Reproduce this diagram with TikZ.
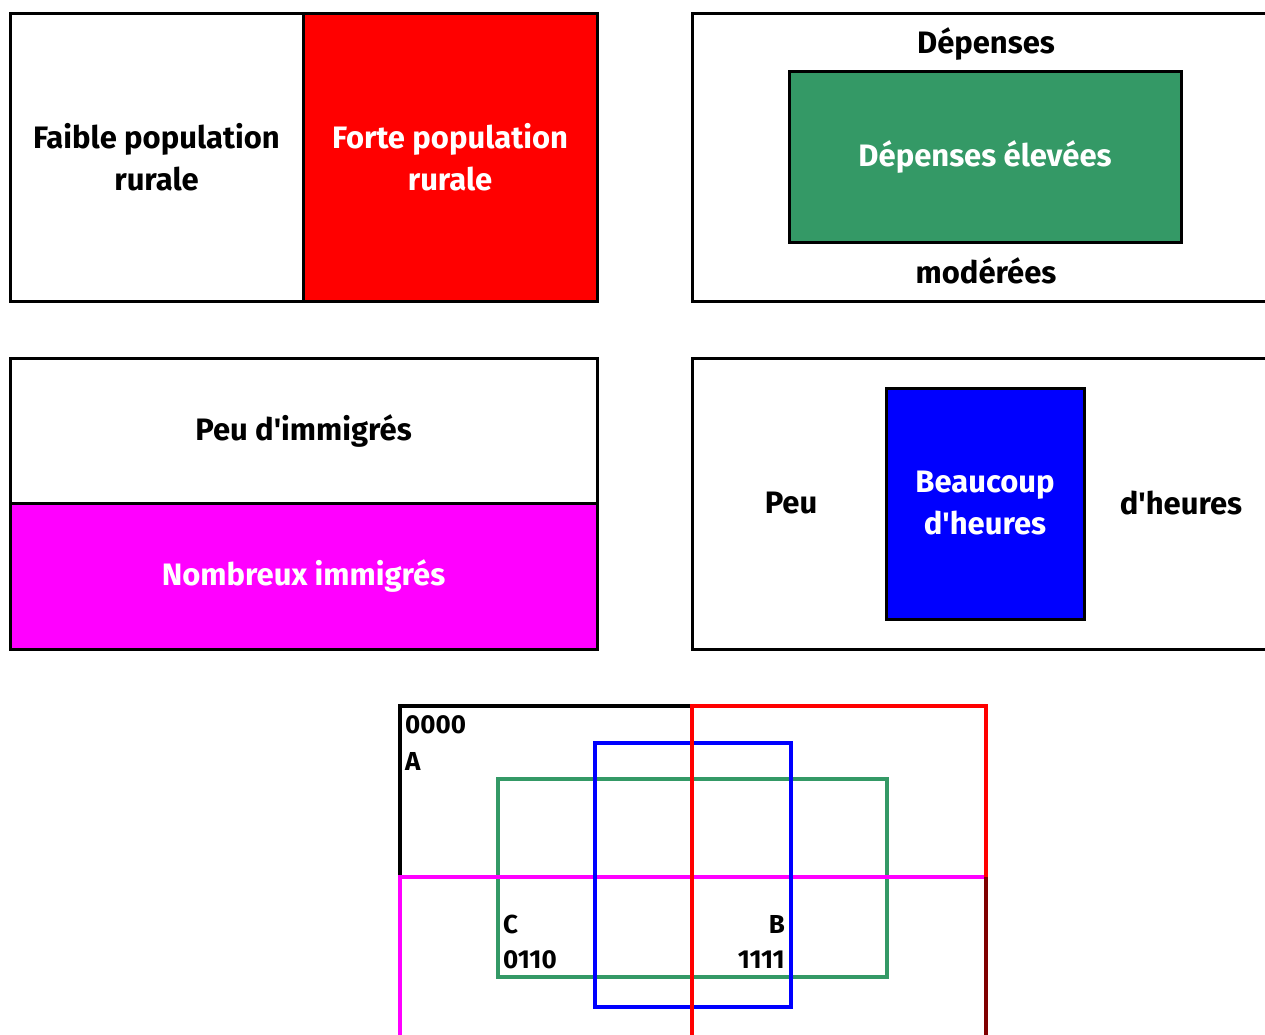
\documentclass[tikz,border=0pt]{standalone}
\usepackage{fontspec}
\setmainfont{Fira Sans}
\usepackage{tikz}
\usetikzlibrary{positioning}
\definecolor{depgreen}{RGB}{52,153,102}
\definecolor{darkred}{RGB}{128,0,0}
\definecolor{fullred}{RGB}{255,0,0}
\definecolor{fullblue}{RGB}{0,0,255}
\definecolor{fullmagenta}{RGB}{255,0,255}
\newcommand{\apos}{\textquotesingle}
\tikzset{
    panel/.style={draw, line width=3pt, rectangle, inner sep=0pt, align=center,
        font=\fontsize{31}{42}\selectfont\bfseries}, % every box of the four panels
    whitetext/.style={text=white}, % labels on a coloured fill
    tag/.style={font=\fontsize{31}{42}\selectfont\bfseries, inner sep=0pt}, % free labels
    code/.style={font=\fontsize{26}{30}\selectfont\bfseries, inner sep=0pt}, % labels of the overlap plan
    edge/.style={line width=4pt}, % lines of the overlap plan
    }
\begin{document}
\begin{tikzpicture}[x=1pt, y=-1pt]
\useasboundingbox (0,0) rectangle (1265,1034);
% rural population
\node[panel, minimum width=293, minimum height=288] (faible) at (156.5,157) {Faible population\\rurale};
\node[panel, whitetext, fill=fullred, minimum width=294, minimum height=288] (forte) at (450,157) {Forte population\\rurale};
% spending
\node[panel, minimum width=587, minimum height=288] (depenses) at (985.5,157) {};
\node[panel, whitetext, fill=depgreen, minimum width=392, minimum height=171] (elevees) at (985,156.5) {Dépenses élevées};
\node[tag, anchor=base] (dep) at (986,53) {Dépenses};
\node[tag, anchor=base] (moderees) at (986,283) {modérées};
% immigrants
\node[panel, minimum width=587, minimum height=145] (peuimm) at (303.5,430.5) {Peu d\apos immigrés};
\node[panel, whitetext, fill=fullmagenta, minimum width=587, minimum height=146] (nombreux) at (303.5,576) {Nombreux immigrés};
% hours
\node[panel, minimum width=587, minimum height=291] (heures) at (985.5,503.5) {};
\node[panel, whitetext, fill=fullblue, minimum width=198, minimum height=231] (beaucoup) at (985,503.5) {Beaucoup\\d\apos heures};
\node[tag] (peu) at (791,503) {Peu};
\node[tag] (dheures) at (1181,503) {d\apos heures};

% overlap plan
\draw[edge, black] (400,877) -- (400,706) -- (692,706);
\draw[edge, depgreen] (498,779) rectangle (887,977);
\draw[edge, fullmagenta] (400,1040) -- (400,877) -- (986,877);
\draw[edge, fullblue] (595,743) rectangle (791,1007);
\draw[edge, fullred] (692,1040) -- (692,706) -- (986,706) -- (986,877);
\draw[edge, darkred] (986,877) -- (986,1040);
\node[code, anchor=base west] (za) at (405,733) {0000};
\node[code, anchor=base west] (a) at (405,770) {A};
\node[code, anchor=base west] (c) at (503,933) {C};
\node[code, anchor=base west] (zc) at (503,968) {0110};
\node[code, anchor=base east] (b) at (785,933) {B};
\node[code, anchor=base east] (zb) at (785,968) {1111};
\end{tikzpicture}
\end{document}
